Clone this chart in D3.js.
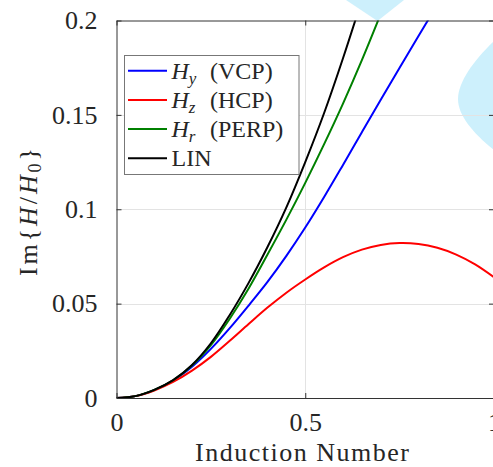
<!DOCTYPE html>
<html>
<head>
<meta charset="utf-8">
<script src="https://cdn.jsdelivr.net/npm/d3@7"></script>
</head>
<body style="margin:0;background:#fff">
<svg id="chart" width="493" height="467" font-family="Liberation Serif"></svg>
<script>
// induction number grid (x) and Im{H/H0}
const induction = [0, 0.05, 0.1, 0.15, 0.2, 0.25, 0.3, 0.35, 0.4, 0.45, 0.5,
                   0.55, 0.6, 0.65, 0.7, 0.75, 0.8, 0.85, 0.9, 0.95, 1.0];
const hyVCP  = [0, 0.001, 0.0042, 0.0092, 0.0165, 0.026, 0.037, 0.049, 0.0615, 0.0753, 0.0903,
                0.1065, 0.1235, 0.1408, 0.158, 0.175, 0.1918, 0.2083];
const hzHCP  = [0, 0.001, 0.004, 0.0085, 0.0145, 0.0218, 0.0303, 0.0392, 0.0479, 0.0558, 0.0628,
                0.0692, 0.0746, 0.0786, 0.0811, 0.0821, 0.0816, 0.0796, 0.076, 0.0708, 0.064];
const hrPERP = [0, 0.001, 0.0043, 0.0094, 0.0172, 0.028, 0.042, 0.058, 0.076, 0.0945, 0.114,
                0.1345, 0.156, 0.179, 0.2035];
const lin    = [0, 0.001, 0.0043, 0.0095, 0.0175, 0.029, 0.044, 0.061, 0.080, 0.101, 0.125,
                0.151, 0.180, 0.211];
const xTicks = [0, 0.5, 1];
const yTicks = [0, 0.05, 0.1, 0.15, 0.2];

const series = [
  { name: "y", tag: "(VCP)",  color: "#0000ff", values: hyVCP },
  { name: "z", tag: "(HCP)",  color: "#ff0000", values: hzHCP },
  { name: "r", tag: "(PERP)", color: "#008000", values: hrPERP },
  { name: null, tag: "LIN",   color: "#000000", values: lin }
];

const svg = d3.select("#chart");
const serif = "'Liberation Serif', Tinos, serif";
const textColor = "#262626";
const pLeft = 116.5, pTop = 20.5, pRight = 494, pBottom = 398;

const x = d3.scaleLinear().domain([0, 1]).range([pLeft, pRight]);
const y = d3.scaleLinear().domain([0, 0.2]).range([pBottom, pTop]);

// light blue blobs sitting behind the axes
const blobs = svg.append("g").attr("fill", "#cdf0fc");
blobs.append("path").attr("d", "M346,0 L377.5,21 L404,0 Z");
blobs.append("path").attr("d", "M494,41 C474,60 458,82 458,99 C458,116 474,134 494,150 Z");

// grid
const grid = svg.append("g").attr("stroke", "#e3e3e3").attr("stroke-width", 1);
grid.selectAll("line.gy").data(yTicks.slice(1, -1)).enter().append("line")
    .attr("x1", pLeft).attr("x2", pRight)
    .attr("y1", d => Math.round(y(d)) + 0.5).attr("y2", d => Math.round(y(d)) + 0.5);
grid.selectAll("line.gx").data(xTicks.slice(1, -1)).enter().append("line")
    .attr("y1", pTop).attr("y2", pBottom)
    .attr("x1", d => Math.round(x(d)) + 0.5).attr("x2", d => Math.round(x(d)) + 0.5);

// curves, clipped to the plot box
svg.append("clipPath").attr("id", "clip").append("rect")
    .attr("x", pLeft).attr("y", pTop).attr("width", pRight - pLeft).attr("height", pBottom - pTop);

const line = d3.line()
    .x((d, i) => x(induction[i]))
    .y(d => y(d))
    .curve(d3.curveCatmullRom);

svg.append("g").attr("clip-path", "url(#clip)")
  .selectAll("path").data(series).enter().append("path")
    .attr("fill", "none")
    .attr("stroke", d => d.color)
    .attr("stroke-width", 2)
    .attr("d", d => line(d.values));

// box axes with inward ticks
function styleAxis(g) {
  g.attr("font-family", null).attr("font-size", 26);
  g.selectAll("path.domain").attr("stroke", "#333");
  g.selectAll(".tick line").attr("stroke", "#333");
  g.selectAll("text").style("font-family", serif).attr("fill", textColor);
}
svg.append("g").attr("transform", `translate(0,${pBottom})`)
   .call(d3.axisBottom(x).tickValues(xTicks).tickFormat(d3.format("")).tickSizeInner(-5).tickSizeOuter(0).tickPadding(15))
   .call(styleAxis);
svg.append("g").attr("transform", `translate(0,${pTop})`)
   .call(d3.axisTop(x).tickValues(xTicks).tickFormat("").tickSizeInner(-5).tickSizeOuter(0))
   .call(styleAxis);
svg.append("g").attr("transform", `translate(${pLeft},0)`)
   .call(d3.axisLeft(y).tickValues(yTicks).tickFormat(d3.format("")).tickSizeInner(-5).tickSizeOuter(0).tickPadding(19))
   .call(styleAxis);
svg.append("g").attr("transform", `translate(${pRight},0)`)
   .call(d3.axisRight(y).tickValues(yTicks).tickFormat("").tickSizeInner(-5).tickSizeOuter(0))
   .call(styleAxis);

// axis titles
svg.append("text")
    .attr("x", 302).attr("y", 461)
    .attr("text-anchor", "middle")
    .style("font-family", serif)
    .attr("font-size", 26)
    .attr("fill", textColor)
    .attr("textLength", 214)
    .text("Induction Number");

const yl = svg.append("text")
    .attr("transform", "translate(37,212) rotate(-90)")
    .attr("text-anchor", "middle")
    .style("font-family", serif)
    .attr("font-size", 26)
    .attr("fill", textColor)
    .attr("textLength", 128);
yl.append("tspan").text("Im{");
yl.append("tspan").attr("font-style", "italic").text("H");
yl.append("tspan").text("/");
yl.append("tspan").attr("font-style", "italic").text("H");
yl.append("tspan").attr("font-size", 18).attr("baseline-shift", "-22%").text("0");
yl.append("tspan").text("}");

// legend
const lx = 124.5, ly = 55.5, lw = 174.5, lh = 119, rowH = 29.2;
const legend = svg.append("g");
legend.append("rect")
    .attr("x", lx).attr("y", ly).attr("width", lw).attr("height", lh)
    .attr("fill", "#fff").attr("stroke", "#777").attr("stroke-width", 1);

const rows = legend.selectAll("g.row").data(series).enter().append("g")
    .attr("class", "row")
    .attr("transform", (d, i) => `translate(0,${70.7 + rowH * i})`);
rows.append("line")
    .attr("x1", 128).attr("x2", 167).attr("y1", 0).attr("y2", 0)
    .attr("stroke", d => d.color).attr("stroke-width", 2);
rows.each(function(d) {
  const t = d3.select(this).append("text")
      .attr("x", 171.5).attr("y", 8)
      .style("font-family", serif).attr("font-size", 24).attr("fill", textColor);
  if (d.name) {
    t.append("tspan").attr("font-style", "italic").text("H");
    t.append("tspan").attr("font-style", "italic").attr("font-size", 17).attr("dy", 5).text(d.name);
    t.append("tspan").attr("x", 210).attr("dy", -5).text(d.tag);
  } else {
    t.text(d.tag);
  }
});
</script>
</body>
</html>
